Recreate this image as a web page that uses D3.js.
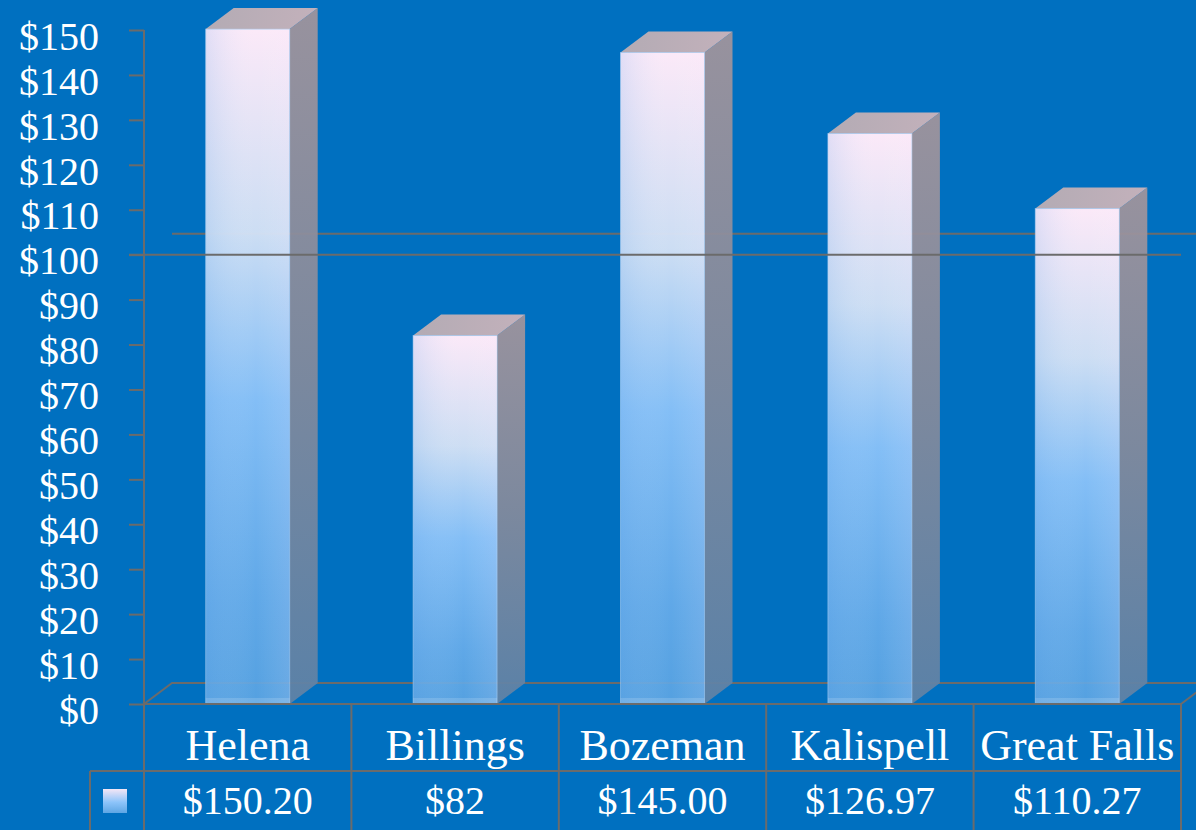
<!DOCTYPE html>
<html>
<head>
<meta charset="utf-8">
<script src="https://cdn.jsdelivr.net/npm/d3@7/dist/d3.min.js"></script>
<style>
	body { margin: 0; background: #0070c0; overflow: hidden; }
	text { font-family: "Liberation Serif", "Times New Roman", serif; fill: #fff; }
</style>
</head>
<body>
<svg id="chart" width="1196" height="830"></svg>
<script>
// data
var cities = ["Helena", "Billings", "Bozeman", "Kalispell", "Great Falls"];
var prices = [150.20, 82, 145.00, 126.97, 110.27];
var priceLabels = ["$150.20", "$82", "$145.00", "$126.97", "$110.27"];
var yTicks = [0, 10, 20, 30, 40, 50, 60, 70, 80, 90, 100, 110, 120, 130, 140, 150];
var gridValues = [100];

var svg = d3.select("#chart");
var lineColor = "#6b6b6b";

// plot geometry
var plotLeft = 144, plotRight = 1181, plotTop = 30, floorY = 704;
var dx = 28, dy = -21; // 3d depth
var barW = 84;
var rowH = 67;

var x = d3.scaleBand()
	.domain(cities)
	.range([plotLeft, plotRight])
	.paddingInner(0)
	.paddingOuter(0);

var y = d3.scaleLinear()
	.domain([0, 150])
	.range([floorY, plotTop]);

//gradients
var defs = svg.append("defs");

var front = defs.append("linearGradient").attr("id", "gFront")
	.attr("x1", 0).attr("y1", 0).attr("x2", 0).attr("y2", 1);
[[0, "#fbe9f8", 1], [0.3, "#d3e1f5", 0.97], [0.55, "#8dc4fa", 0.93], [0.85, "#6aaeec", 0.9], [1, "#5ea6e4", 0.9]]
	.forEach(function (s) {
		front.append("stop").attr("offset", s[0]).attr("stop-color", s[1]).attr("stop-opacity", s[2]);
	});

var sheen = defs.append("linearGradient").attr("id", "gSheen")
	.attr("x1", 0).attr("y1", 0).attr("x2", 1).attr("y2", 0);
sheen.append("stop").attr("offset", 0).attr("stop-color", "#6aa8ea").attr("stop-opacity", 0.18);
sheen.append("stop").attr("offset", 0.6).attr("stop-color", "#ffffff").attr("stop-opacity", 0);
sheen.append("stop").attr("offset", 1).attr("stop-color", "#ffe6fa").attr("stop-opacity", 0.12);

var side = defs.append("linearGradient").attr("id", "gSide")
	.attr("x1", 0).attr("y1", 0).attr("x2", 0).attr("y2", 1);
side.append("stop").attr("offset", 0).attr("stop-color", "#a0949c");
side.append("stop").attr("offset", 0.5).attr("stop-color", "#838a9c");
side.append("stop").attr("offset", 1).attr("stop-color", "#5f82a6");

var topG = defs.append("linearGradient").attr("id", "gTop")
	.attr("x1", 0).attr("y1", 0).attr("x2", 1).attr("y2", 0);
topG.append("stop").attr("offset", 0).attr("stop-color", "#b3abb4");
topG.append("stop").attr("offset", 1).attr("stop-color", "#c3b1bb");

var key = defs.append("linearGradient").attr("id", "gKey")
	.attr("x1", 0).attr("y1", 0).attr("x2", 0).attr("y2", 1);
key.append("stop").attr("offset", 0).attr("stop-color", "#f4e6f6");
key.append("stop").attr("offset", 0.55).attr("stop-color", "#8dc4fa");
key.append("stop").attr("offset", 1).attr("stop-color", "#5ea6e4");

//back wall gridline
svg.selectAll(".backgrid")
	.data(gridValues)
	.enter()
	.append("line")
	.attr("x1", plotLeft + dx).attr("x2", plotRight + dx)
	.attr("y1", function (d) { return y(d) + dy; })
	.attr("y2", function (d) { return y(d) + dy; })
	.attr("stroke", lineColor).attr("stroke-width", 2);

//floor
svg.append("path")
	.attr("d", "M" + plotLeft + "," + floorY + "L" + (plotLeft + dx) + "," + (floorY + dy) +
		"L" + (plotRight + dx) + "," + (floorY + dy) + "M" + plotRight + "," + floorY +
		"L" + (plotRight + dx) + "," + (floorY + dy))
	.attr("fill", "none")
	.attr("stroke", lineColor).attr("stroke-width", 2);

//bars
var bars = svg.selectAll(".bar")
	.data(cities)
	.enter()
	.append("g")
	.attr("class", "bar");

function bx(d) { return x(d) + (x.bandwidth() - barW) / 2; }
function by(d, i) { return y(prices[i]); }

bars.append("path")
	.attr("d", function (d, i) {
		var x0 = bx(d) + barW, y0 = by(d, i);
		return "M" + x0 + "," + y0 + "L" + (x0 + dx) + "," + (y0 + dy) +
			"L" + (x0 + dx) + "," + (floorY + dy) + "L" + x0 + "," + floorY + "Z";
	})
	.attr("fill", "url(#gSide)")
	.attr("fill-opacity", 0.95);

bars.append("path")
	.attr("d", function (d, i) {
		var x0 = bx(d), y0 = by(d, i);
		return "M" + x0 + "," + y0 + "L" + (x0 + dx) + "," + (y0 + dy) +
			"L" + (x0 + barW + dx) + "," + (y0 + dy) + "L" + (x0 + barW) + "," + y0 + "Z";
	})
	.attr("fill", "url(#gTop)");

bars.append("rect")
	.attr("x", bx)
	.attr("y", by)
	.attr("width", barW)
	.attr("height", function (d, i) { return floorY - by(d, i); })
	.attr("fill", "url(#gFront)")
	.attr("stroke", "#b8d6f6")
	.attr("stroke-opacity", 0.5)
	.attr("stroke-width", 1);

bars.append("rect")
	.attr("x", bx)
	.attr("y", by)
	.attr("width", barW)
	.attr("height", function (d, i) { return floorY - by(d, i); })
	.attr("fill", "url(#gSheen)");

bars.append("rect")
	.attr("x", bx)
	.attr("y", floorY - 6)
	.attr("width", barW)
	.attr("height", 6)
	.attr("fill", "#ffffff")
	.attr("fill-opacity", 0.15);

//front gridline, drawn over bars
svg.selectAll(".frontgrid")
	.data(gridValues)
	.enter()
	.append("line")
	.attr("x1", plotLeft - 15).attr("x2", plotRight)
	.attr("y1", function (d) { return y(d); })
	.attr("y2", function (d) { return y(d); })
	.attr("stroke", lineColor).attr("stroke-width", 2);

//y axis
var yAxis = d3.axisLeft(y)
	.tickValues(yTicks)
	.tickSize(15)
	.tickPadding(30)
	.tickFormat(function (d) { return "$" + d; });

var gy = svg.append("g")
	.attr("transform", "translate(" + plotLeft + ",0)")
	.call(yAxis);
gy.select(".domain").attr("stroke", lineColor).attr("stroke-width", 2)
	.attr("d", "M0," + plotTop + "V" + floorY);
gy.selectAll(".tick line").attr("stroke", lineColor).attr("stroke-width", 2);
gy.selectAll(".tick text")
	.attr("fill", "#fff")
	.attr("dy", "0.48em")
	.style("font-family", "'Liberation Serif', serif")
	.style("font-size", "40px");

//data table
var table = svg.append("g");
var row1 = floorY + rowH;

table.append("line")
	.attr("x1", plotLeft).attr("x2", plotRight).attr("y1", floorY).attr("y2", floorY)
	.attr("stroke", lineColor).attr("stroke-width", 2);
table.append("line")
	.attr("x1", 90).attr("x2", plotRight).attr("y1", row1).attr("y2", row1)
	.attr("stroke", lineColor).attr("stroke-width", 2);
table.append("line")
	.attr("x1", 90).attr("x2", 90).attr("y1", row1).attr("y2", 830)
	.attr("stroke", lineColor).attr("stroke-width", 2);

var cols = [plotLeft].concat(cities.map(function (d) { return x(d) + x.bandwidth(); }));
table.selectAll(".vline")
	.data(cols)
	.enter()
	.append("line")
	.attr("x1", function (d) { return d; })
	.attr("x2", function (d) { return d; })
	.attr("y1", floorY).attr("y2", 830)
	.attr("stroke", lineColor).attr("stroke-width", 2);

table.selectAll(".cat")
	.data(cities)
	.enter()
	.append("text")
	.attr("x", function (d) { return x(d) + x.bandwidth() / 2; })
	.attr("y", 760)
	.attr("text-anchor", "middle")
	.style("font-size", "44px")
	.text(function (d) { return d; });

table.selectAll(".val")
	.data(priceLabels)
	.enter()
	.append("text")
	.attr("x", function (d, i) { return x(cities[i]) + x.bandwidth() / 2; })
	.attr("y", 814)
	.attr("text-anchor", "middle")
	.style("font-size", "40px")
	.text(function (d) { return d; });

table.append("rect")
	.attr("x", 103).attr("y", 789)
	.attr("width", 24).attr("height", 24)
	.attr("fill", "url(#gKey)");
</script>
</body>
</html>
